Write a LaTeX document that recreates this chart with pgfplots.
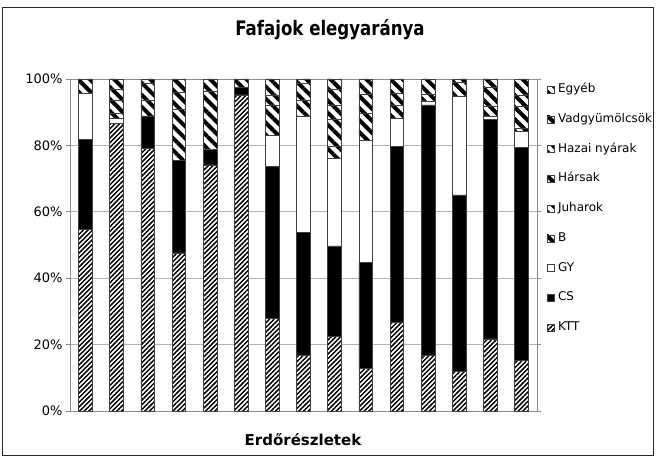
\documentclass[border=0pt]{standalone}
\usepackage{fontspec}
\setmainfont{DejaVu Sans}
\newfontfamily\titlefont[FakeStretch=0.83]{DejaVu Sans}
\usepackage{pgfplots}
\pgfplotsset{compat=1.18}
\usepackage{pgfplotstable}
\usetikzlibrary{patterns,patterns.meta}

\pgfplotstableread{
x  KTT  CS   GY   B    Juh  Hars Hazai Vad Egyeb
1  54.7 27.1 14.0 0    4.2  0    0     0   0
2  86.6 0    1.5  1.6  3.8  3.5  0     0   3.0
3  79.1 9.8  0    0    4.8  5.0  0     0   1.3
4  47.6 27.8 0    0    15.4 5.2  0     0   4.0
5  74.1 4.7  0    0    17.4 0    0     0   3.8
6  95.2 2.3  0    0    2.5  0    0     0   0
7  27.9 45.7 9.5  0    9.1  3.0  0     0   4.8
8  16.7 37.0 35.2 0    4.8  5.0  0     0   1.3
9  22.5 27.2 26.4 3.5  8.1  4.5  4.8   0   3.0
10 12.8 32.0 36.6 0    8.3  5.8  0     0   4.5
11 26.7 53.1 8.3  0    4.1  3.5  0     0   4.3
12 16.7 75.5 1.2  0    2.1  0    0     0   4.5
13 11.8 53.3 29.8 0    4.0  0    0     0   1.1
14 21.7 66.2 1.0  0    3.0  5.6  0     0   2.5
15 15.2 64.2 4.7  0.9  6.7  3.5  0     0   4.8
}\datatable

\tikzset{
  ktt/.style={draw=black!75, line width=0.7pt, preaction={fill=white},
    pattern={Lines[angle=45,distance=3.3pt,line width=1.5pt]}, pattern color=black},
  wide/.style={draw=black!75, line width=0.7pt, preaction={fill=white},
    pattern={Lines[angle=-45,distance=8.5pt,line width=4pt]}, pattern color=black},
}

\begin{document}
\begin{tikzpicture}[x=1pt,y=1pt]
\path[use as bounding box] (-70,-47) rectangle (586,411);
\draw[line width=1pt, black!85] (-67,-44) rectangle (583,403);
\begin{axis}[
  at={(0,0)}, anchor=south west,
  scale only axis, width=467pt, height=332pt,
  ybar stacked, bar width=13.7pt,
  xmin=0.5, xmax=15.5, ymin=0, ymax=100,
  xtick=\empty,
  ytick={0,20,...,100},
  yticklabel={\pgfmathparse{int(\tick)}\pgfmathresult\%},
  /pgf/number format/assume math mode=true,
  ymajorgrids, grid style={black!30, line width=0.8pt},
  axis line style={black!45, line width=0.8pt},
  ytick style={black!45, line width=0.8pt}, ytick align=outside, major tick length=4pt,
  tick label style={font=\fontsize{13}{13}\selectfont},
  title={\titlefont\bfseries\fontsize{20}{20}\selectfont Fafajok elegyaránya},
  title style={at={(0.5567,1.1295)}, anchor=center},
  xlabel={\bfseries\fontsize{15}{15}\selectfont Erdőrészletek},
  xlabel style={at={(0.4989,-0.0873)}, anchor=center},
  reverse legend,
  legend image code/.code={\draw[#1] (0pt,-3.5pt) rectangle (7pt,3.5pt);},
  legend style={at={(1.0207,0.9867)}, anchor=north west, draw=none, fill=none,
    font=\fontsize{12}{12}\selectfont, row sep=17.75pt, column sep=3.5pt,
    inner sep=0pt, nodes={inner sep=0pt, text height=9pt, text depth=3pt}},
  legend cell align=left,
]
\addplot[ktt] table[x=x,y=KTT]{\datatable};
\addlegendentry{KTT}
\addplot[draw=black!75, line width=0.7pt, fill=black] table[x=x,y=CS]{\datatable};
\addlegendentry{CS}
\addplot[draw=black!75, line width=0.7pt, fill=white] table[x=x,y=GY]{\datatable};
\addlegendentry{GY}
\addplot[wide] table[x=x,y=B]{\datatable};
\addlegendentry{B}
\addplot[wide] table[x=x,y=Juh]{\datatable};
\addlegendentry{Juharok}
\addplot[wide] table[x=x,y=Hars]{\datatable};
\addlegendentry{Hársak}
\addplot[wide] table[x=x,y=Hazai]{\datatable};
\addlegendentry{Hazai nyárak}
\addplot[wide] table[x=x,y=Vad]{\datatable};
\addlegendentry{Vadgyümölcsök}
\addplot[wide] table[x=x,y=Egyeb]{\datatable};
\addlegendentry{Egyéb}
\end{axis}
\end{tikzpicture}
\end{document}
